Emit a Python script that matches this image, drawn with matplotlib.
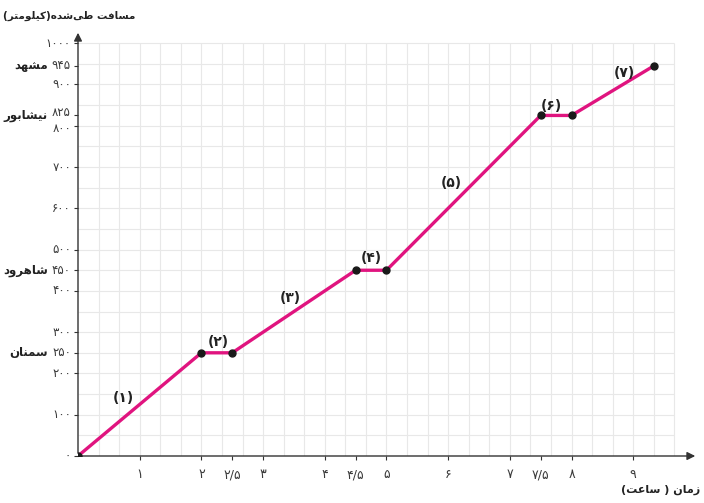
import matplotlib
matplotlib.use('Agg')
import matplotlib.pyplot as plt
import matplotlib.transforms as mtransforms

# journey data (hours, km)
times = [0, 2, 2.5, 4.5, 5, 7.5, 8, 9.333]
dists = [0, 250, 250, 450, 450, 825, 825, 945]

xticks = [1, 2, 2.5, 3, 4, 4.5, 5, 6, 7, 7.5, 8, 9]
yticks = [0, 100, 200, 250, 300, 400, 450, 500, 600, 700, 800, 825, 900, 945, 1000]

cities = ['سمنان', 'شاهرود', 'نیشابور', 'مشهد']
city_dists = [250, 450, 825, 945]

seg_labels = ['(1)', '(2)', '(3)', '(4)', '(5)', '(6)', '(7)']
seg_x = [0.73, 2.27, 3.44, 4.75, 6.05, 7.68, 8.85]
seg_y = [140, 276, 383, 479, 661, 847, 927]

ylabel = 'مسافت طی‌شده(کیلومتر)'
xlabel = 'زمان ( ساعت)'

# --- minimal arabic/persian shaping (matplotlib has no RTL layout) ---
FORMS = {
    'ا': ('\uFE8D', '\uFE8E'),
    'ب': ('\uFE8F', '\uFE90', '\uFE91', '\uFE92'),
    'ت': ('\uFE95', '\uFE96', '\uFE97', '\uFE98'),
    'د': ('\uFEA9', '\uFEAA'),
    'ر': ('\uFEAD', '\uFEAE'),
    'ز': ('\uFEAF', '\uFEB0'),
    'س': ('\uFEB1', '\uFEB2', '\uFEB3', '\uFEB4'),
    'ش': ('\uFEB5', '\uFEB6', '\uFEB7', '\uFEB8'),
    'ط': ('\uFEC1', '\uFEC2', '\uFEC3', '\uFEC4'),
    'ع': ('\uFEC9', '\uFECA', '\uFECB', '\uFECC'),
    'ف': ('\uFED1', '\uFED2', '\uFED3', '\uFED4'),
    'ل': ('\uFEDD', '\uFEDE', '\uFEDF', '\uFEE0'),
    'م': ('\uFEE1', '\uFEE2', '\uFEE3', '\uFEE4'),
    'ن': ('\uFEE5', '\uFEE6', '\uFEE7', '\uFEE8'),
    'ه': ('\uFEE9', '\uFEEA', '\uFEEB', '\uFEEC'),
    'و': ('\uFEED', '\uFEEE'),
    'ی': ('\uFBFC', '\uFBFD', '\uFBFE', '\uFBFF'),
    'ک': ('\uFB8E', '\uFB8F', '\uFB90', '\uFB91'),
}


def shape(text):
    out = []
    n = len(text)
    for i, c in enumerate(text):
        if c == '\u200c':
            continue
        if c not in FORMS:
            out.append(c)
            continue
        prev = text[i - 1] if i > 0 else ''
        nxt = text[i + 1] if i + 1 < n else ''
        join_prev = prev in FORMS and len(FORMS[prev]) == 4
        join_next = len(FORMS[c]) == 4 and nxt in FORMS
        f = FORMS[c]
        if join_prev and join_next:
            out.append(f[3])
        elif join_prev:
            out.append(f[1])
        elif join_next:
            out.append(f[2])
        else:
            out.append(f[0])
    vis = ''.join(reversed(out))
    return vis.translate(str.maketrans('()', ')('))


FA = str.maketrans('0123456789.', '۰۱۲۳۴۵۶۷۸۹/')


def fa(v):
    s = f'{v:g}'
    return s.translate(FA)


plt.rcParams['font.family'] = ['DejaVu Sans']

fig = plt.figure(figsize=(7.04, 5.03), dpi=100)
ax = fig.add_axes([78 / 704, 47 / 503, 620 / 704, 426 / 503])
ax.set_xlim(0, 10.05)
ax.set_ylim(0, 1032)

# grid: every 20 minutes and every 50 km
gx = [k / 3 for k in range(1, 30)]
gy = [k * 50 for k in range(1, 21)]
ax.vlines(gx, 0, 1000, color='#e8e8e8', lw=0.8, zorder=0)
ax.hlines(gy, 0, 29 / 3, color='#e8e8e8', lw=0.8, zorder=0)

for s in ax.spines.values():
    s.set_visible(False)
ax.annotate('', xy=(1, 0), xytext=(0, 0), xycoords='axes fraction',
            arrowprops=dict(arrowstyle='-|>', color='#333333', lw=1.0, mutation_scale=12))
ax.annotate('', xy=(0, 1), xytext=(0, 0), xycoords='axes fraction',
            arrowprops=dict(arrowstyle='-|>', color='#333333', lw=1.0, mutation_scale=12))

ax.plot(times, dists, color='#e0147f', lw=2.4, zorder=3, solid_capstyle='round')
ax.plot(times, dists, 'o', color='#1a1a1a', ms=5, zorder=4)

ax.set_xticks(xticks)
ax.set_xticklabels([fa(v) for v in xticks], fontsize=9, color='#3a3a3a')
ax.tick_params(axis='x', length=3, width=0.8, color='#333333', pad=6)

# y tick labels drawn by hand so the close pair 800/825 can be nudged apart
ax.set_yticks(yticks)
ax.set_yticklabels([])
ax.tick_params(axis='y', length=3, width=0.8, color='#333333')
trans = mtransforms.blended_transform_factory(fig.transFigure, ax.transData)
nudge = {800: -2.5, 825: 2.5}
for v in yticks:
    off = mtransforms.ScaledTranslation(0, nudge.get(v, 0) / 100, fig.dpi_scale_trans)
    ax.text(71 / 704, v, fa(v), fontsize=8.5, color='#3a3a3a', ha='right', va='center',
            transform=trans + off)

for lab, x, y in zip(seg_labels, seg_x, seg_y):
    ax.text(x, y, lab.translate(FA), fontsize=10, fontweight='bold', color='#222222',
            ha='center', va='center')

for name, d in zip(cities, city_dists):
    ax.text(48 / 704, d, shape(name), fontsize=8.5, fontweight='bold', color='#222222',
            ha='right', va='center', transform=trans)

fig.text(3 / 704, 1 - 16 / 503, shape(ylabel), fontsize=7.5, fontweight='bold',
         color='#222222', ha='left', va='center')
fig.text(700 / 704, 1 - 490 / 503, shape(xlabel), fontsize=8, fontweight='bold',
         color='#222222', ha='right', va='center')

fig.savefig('out.png', dpi=100)
